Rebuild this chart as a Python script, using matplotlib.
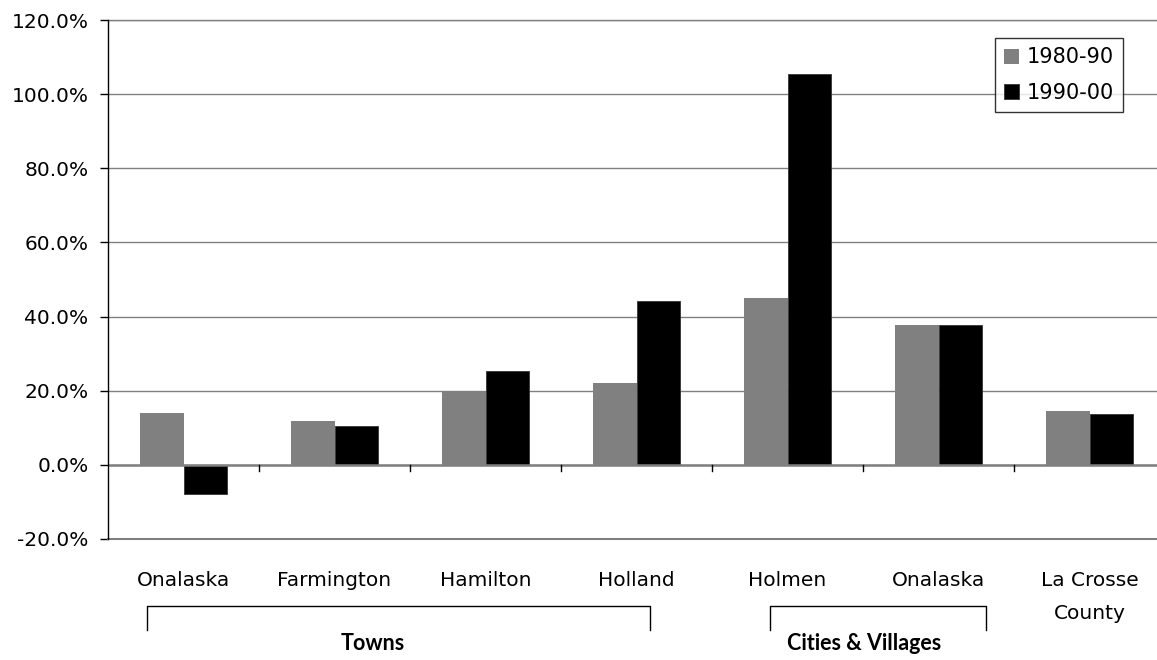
import matplotlib.pyplot as plt
import numpy as np
from matplotlib.lines import Line2D
from matplotlib.ticker import FuncFormatter, FixedLocator

plt.rcParams['font.family'] = ['DejaVu Sans']

# data (percent change)
places = ["Onalaska", "Farmington", "Hamilton", "Holland", "Holmen", "Onalaska",
          "La Crosse\nCounty"]
growth_1980_90 = [14.1, 11.7, 19.9, 22.1, 45.0, 37.7, 14.6]
growth_1990_00 = [-7.9, 10.6, 25.3, 44.2, 105.3, 37.7, 13.7]
series_names = ["1980-90", "1990-00"]
groups = ["Towns", "Cities & Villages"]

W, H = 1157, 660
fig = plt.figure(figsize=(W / 100, H / 100), dpi=100)
ax = fig.add_axes([108 / W, 1 - 539 / H, 1 - 108 / W, (539 - 20) / H])

x = np.arange(len(places))
bw = 0.29
ax.bar(x - bw / 2, growth_1980_90, bw, color="#808080", label=series_names[0], zorder=3)
ax.bar(x + bw / 2, growth_1990_00, bw, color="black", edgecolor="#333333",
       linewidth=0.6, label=series_names[1], zorder=3)

ax.set_ylim(-20, 120)
ax.set_xlim(-0.5, 6.447)
ax.set_yticks(np.arange(-20, 121, 20))
ax.yaxis.set_major_formatter(FuncFormatter(lambda v, p: f"{v:.1f}%"))
ax.grid(axis="y", color="#808080", linewidth=1.0, zorder=0)
ax.axhline(0, color="#808080", linewidth=1.8, zorder=4)
# edge gridlines, kept whole instead of half-clipped
ax.axhline(-20, color="#808080", linewidth=1.5, clip_on=False)
ax.axhline(120, color="#808080", linewidth=1.0, clip_on=False)

for s in ["top", "right", "bottom"]:
    ax.spines[s].set_visible(False)
ax.spines["left"].set_color("black")
ax.spines["left"].set_linewidth(1.0)
ax.spines["left"].set_zorder(5)

ax.xaxis.set_major_locator(FixedLocator(x))
ax.set_xticklabels(places, fontsize=14.5, linespacing=1.95)
ax.tick_params(axis="x", length=0, pad=23)
ax.tick_params(axis="y", length=6, width=1, labelsize=14.5, pad=8)

# boundary ticks on the zero line
for b in x[:-1] + 0.5:
    ax.plot([b, b], [0, -1.6], color="black", linewidth=1, zorder=5, clip_on=False)

ax.legend(loc="upper right", bbox_to_anchor=(1123 / W, 1 - 38 / H),
          bbox_transform=fig.transFigure, frameon=True, fancybox=False,
          edgecolor="black", fontsize=15, handlelength=0.72, handleheight=0.72,
          handletextpad=0.34, labelspacing=0.75, borderpad=0.45, borderaxespad=0)

# group brackets under the axis
def bracket(x0, x1):
    y0, y1 = 1 - 606 / H, 1 - 630 / H
    fig.add_artist(Line2D([x0 / W, x0 / W, x1 / W, x1 / W], [y1, y0, y0, y1],
                          color="black", linewidth=1.0))

bracket(147, 650)
bracket(770, 986)
fig.text(373 / W, 1 - 644 / H, groups[0], ha="center", va="center",
         fontsize=15.5, fontweight="bold", family=["Lato", "DejaVu Sans"])
fig.text(864 / W, 1 - 644 / H, groups[1], ha="center", va="center",
         fontsize=15.5, fontweight="bold", family=["Lato", "DejaVu Sans"])

fig.savefig("out.png", dpi=100)
